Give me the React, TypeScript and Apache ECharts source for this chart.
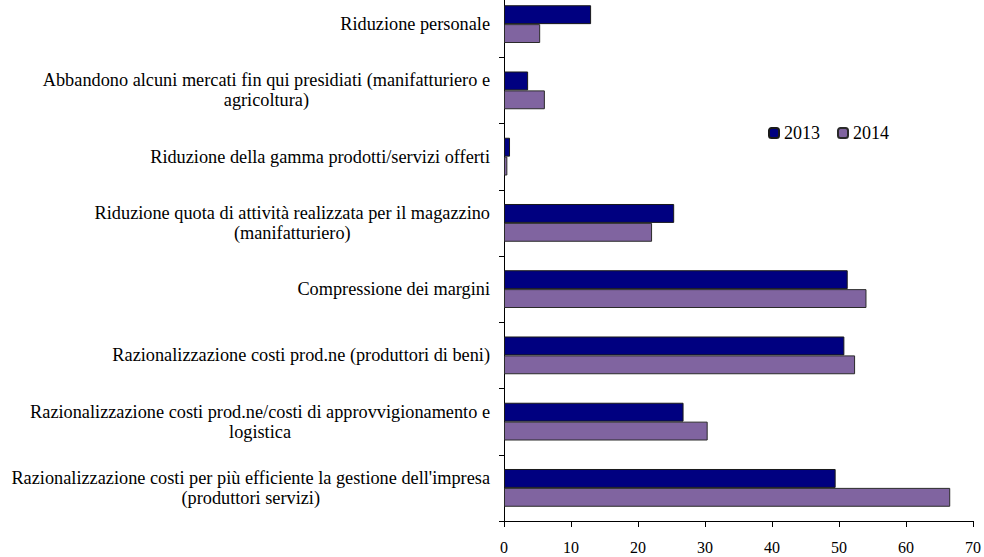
import React, { useEffect, useRef } from "react";
import * as echarts from "echarts";

const categories = [
  "Riduzione personale",
  "Abbandono alcuni mercati fin qui presidiati (manifatturiero e\nagricoltura)",
  "Riduzione della gamma prodotti/servizi offerti",
  "Riduzione quota di attività realizzata per il magazzino\n(manifatturiero)",
  "Compressione dei margini",
  "Razionalizzazione costi prod.ne (produttori di beni)",
  "Razionalizzazione costi prod.ne/costi di approvvigionamento e\nlogistica",
  "Razionalizzazione costi per più efficiente la gestione dell'impresa\n(produttori servizi)",
];
const values2013 = [13.0, 3.6, 0.9, 25.4, 51.3, 50.8, 26.8, 49.5];
const values2014 = [5.4, 6.1, 0.5, 22.1, 54.1, 52.4, 30.4, 66.6];
const seriesNames = ["2013", "2014"];

const FONT = "'Liberation Serif', 'Times New Roman', serif";
const OFFSET = 9;

export default function App() {
  const ref = useRef<HTMLDivElement>(null);
  useEffect(() => {
    if (!ref.current) return;
    const chart = echarts.init(ref.current, undefined, { renderer: "svg" });
    chart.setOption({
      animation: false,
      backgroundColor: "#ffffff",
      textStyle: { fontFamily: FONT },
      legend: {
        left: 763,
        top: 119 + OFFSET,
        itemWidth: 10,
        itemHeight: 10,
        itemGap: 17,
        textStyle: { fontFamily: FONT, fontSize: 18, color: "#000" },
        data: seriesNames,
      },
      grid: { left: 504, right: 11, top: 0, bottom: 36, containLabel: false },
      xAxis: {
        type: "value",
        min: 0,
        max: 70,
        interval: 10,
        splitLine: { show: false },
        axisLine: { show: true, lineStyle: { color: "#000", width: 1 } },
        axisTick: { show: true, length: 6, lineStyle: { color: "#000" } },
        axisLabel: { margin: 18, fontFamily: FONT, fontSize: 16, color: "#000" },
      },
      yAxis: {
        type: "category",
        inverse: true,
        data: categories,
        axisLine: { show: true, lineStyle: { color: "#000", width: 1 } },
        axisTick: { show: true, length: 5, lineStyle: { color: "#000" } },
        axisLabel: {
          margin: 14,
          align: "right",
          fontFamily: FONT,
          fontSize: 18.3,
          color: "#000",
          lineHeight: 20,
          formatter: (v: string) =>
            v
              .split("\n")
              .map((l) => `{c|${l}}`)
              .join("\n"),
          rich: {
            c: { align: "center", fontFamily: FONT, fontSize: 18.3, color: "#000", lineHeight: 20 },
          },
        },
      },
      series: [
        {
          name: seriesNames[0],
          type: "bar",
          data: values2013,
          barGap: "0%",
          barCategoryGap: "43%",
          itemStyle: { color: "#000080", borderColor: "#1a1a1a", borderWidth: 1 },
        },
        {
          name: seriesNames[1],
          type: "bar",
          data: values2014,
          barGap: "0%",
          barCategoryGap: "43%",
          itemStyle: { color: "#8064A0", borderColor: "#2a2a2a", borderWidth: 1 },
        },
      ],
    });
    return () => chart.dispose();
  }, []);
  return (
    <div
      ref={ref}
      style={{ position: "fixed", left: 0, top: -OFFSET, width: 984, height: 557 + OFFSET }}
    />
  );
}
